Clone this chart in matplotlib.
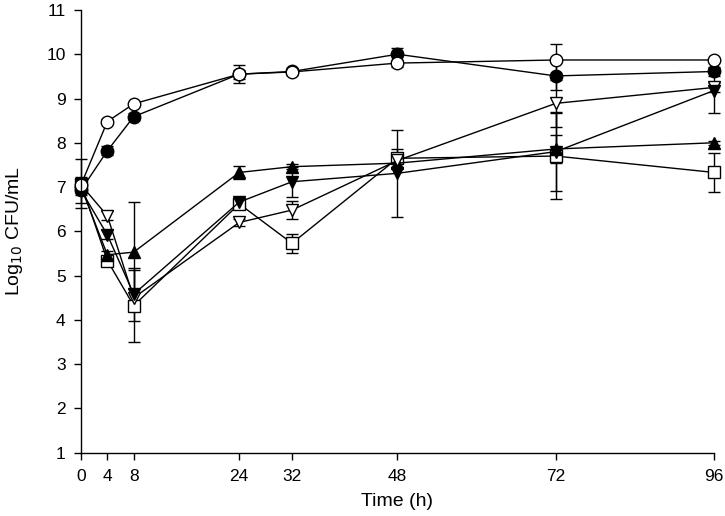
import matplotlib.pyplot as plt
import numpy as np

plt.rcParams['font.family'] = ['Liberation Sans', 'DejaVu Sans']

hours = [0, 4, 8, 24, 32, 48, 72, 96]

# open circles
oc = [7.05, 8.48, 8.88, 9.55, 9.6, 9.8, 9.87, 9.87]
oc_err = [0.05, 0.06, 0.05, 0.1, 0.05, 0.08, 0.35, 0.05]
# filled circles
fc = [6.93, 7.82, 8.59, 9.55, 9.61, 10.0, 9.51, 9.61]
fc_err = [0.1, 0.1, 0.08, 0.2, 0.08, 0.15, 0.32, 0.1]
# open down triangles
odt = [7.05, 6.35, 4.5, 6.2, 6.48, 7.6, 8.89, 9.25]
odt_err = [0.1, 0.1, 0.2, 0.08, 0.2, 0.15, 0.53, 0.1]
# filled down triangles
fdt = [6.93, 5.92, 4.58, 6.66, 7.12, 7.31, 7.8, 9.18]
fdt_err = [0.3, 0.1, 0.6, 0.1, 0.34, 0.98, 0.9, 0.5]
# filled up triangles
ut = [7.0, 5.47, 5.53, 7.33, 7.46, 7.54, 7.86, 8.0]
ut_err = [0.1, 0.08, 1.13, 0.14, 0.05, 0.1, 0.32, 0.05]
# open squares
sq = [7.08, 5.34, 4.32, 6.62, 5.73, 7.65, 7.7, 7.33]
sq_err = [0.55, 0.05, 0.81, 0.08, 0.22, 0.2, 0.98, 0.45]

series = [
    (sq, sq_err, 's', 'white', 8),
    (ut, ut_err, '^', 'black', 8.5),
    (odt, odt_err, 'v', 'white', 8.5),
    (fdt, fdt_err, 'v', 'black', 8.5),
    (fc, fc_err, 'o', 'black', 9),
    (oc, oc_err, 'o', 'white', 9),
]

fig = plt.figure(figsize=(7.25, 5.16), dpi=100)
ax = fig.add_axes([0.1117, 0.1227, 0.8731, 0.858])

for vals, err, mk, fcol, ms in series:
    eb = ax.errorbar(hours, vals, yerr=err, color='black', lw=1.0, elinewidth=1.0,
                     capsize=4.5, capthick=1.0, marker=mk, markersize=ms,
                     markerfacecolor=fcol, markeredgecolor='black', markeredgewidth=1.0)
    eb[0].set_clip_on(False)
    for art in list(eb[1]) + list(eb[2]):
        art.set_clip_on(False)

ax.set_xlim(0, 96)
ax.set_ylim(1, 11)
ax.set_xticks(hours)
ax.set_yticks(np.arange(1, 12, 1))
ax.spines['top'].set_visible(False)
ax.spines['right'].set_visible(False)
ax.spines['left'].set_linewidth(1.0)
ax.spines['bottom'].set_linewidth(1.0)
ax.tick_params(direction='out', length=5, width=1.0, labelsize=12.5)
ax.tick_params(axis='y', pad=6)
ax.tick_params(axis='x', pad=7)

ax.set_xlabel('Time (h)', fontsize=14, labelpad=6)
ax.set_ylabel('Log$_{10}$ CFU/mL', fontsize=14, labelpad=15)

plt.savefig('out.png', dpi=100)
